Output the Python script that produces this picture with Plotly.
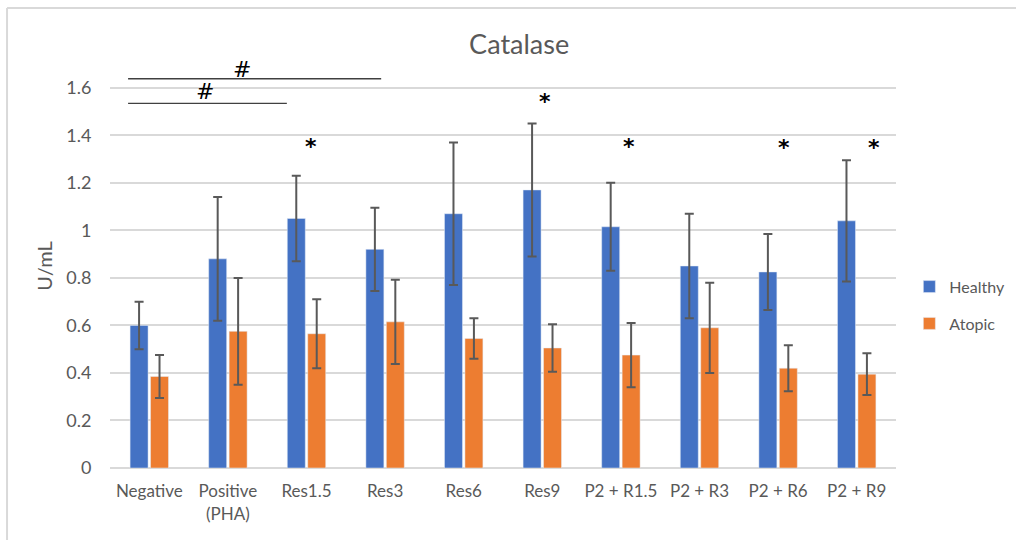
import plotly.graph_objects as go

# Catalase activity (U/mL) by treatment, mean with error
categories = ["Negative", "Positive<br>(PHA)", "Res1.5", "Res3", "Res6", "Res9",
              "P2 + R1.5", "P2 + R3", "P2 + R6", "P2 + R9"]
healthy = [0.60, 0.88, 1.05, 0.92, 1.07, 1.17, 1.015, 0.85, 0.825, 1.04]
healthy_err = [0.10, 0.26, 0.18, 0.175, 0.30, 0.28, 0.185, 0.22, 0.16, 0.255]
atopic = [0.385, 0.575, 0.565, 0.615, 0.545, 0.505, 0.475, 0.59, 0.42, 0.395]
atopic_err = [0.09, 0.225, 0.145, 0.177, 0.085, 0.10, 0.135, 0.19, 0.097, 0.088]

y_ticks = [0, 0.2, 0.4, 0.6, 0.8, 1.0, 1.2, 1.4, 1.6]
y_tick_labels = ["0", "0.2", "0.4", "0.6", "0.8", "1", "1.2", "1.4", "1.6"]

# significance marks: (category position, height)
star_marks = [(2.06, 1.352), (5.03, 1.541), (6.10, 1.352), (8.075, 1.348), (9.22, 1.348)]
hash_marks = [(1.18, 1.676), (0.71, 1.583)]
hash_lines = [(-0.27, 2.95, 1.638), (-0.27, 1.75, 1.534)]

FONT = "Lato, Open Sans, sans-serif"
GRAY = "#595959"
GRID = "#d9d9d9"

fig = go.Figure()
fig.add_trace(go.Bar(
    name="Healthy", x=categories, y=healthy, marker_color="#4472c4", legendgroup="h",
    error_y=dict(type="data", array=healthy_err, color="#595959", thickness=2, width=4.5),
))
fig.add_trace(go.Bar(
    name="Atopic", x=categories, y=atopic, marker_color="#ed7d31", legendgroup="a",
    error_y=dict(type="data", array=atopic_err, color="#595959", thickness=2, width=4.5),
))

mark_font = dict(family="DejaVu Sans, sans-serif", size=22, color="#000000")
annotations = []
for x, y in star_marks:
    annotations.append(dict(x=x, y=y, xref="x", yref="y", text="<b>*</b>", showarrow=False,
                            font=mark_font, yanchor="middle"))
for x, y in hash_marks:
    annotations.append(dict(x=x, y=y, xref="x", yref="y", text="#", showarrow=False,
                            font=mark_font, yanchor="middle"))

shapes = []
for x0, x1, y in hash_lines:
    shapes.append(dict(type="line", xref="x", yref="y", x0=x0, x1=x1, y0=y, y1=y,
                       line=dict(color="#404040", width=1.3)))
# outer chart frame (top and left edges)
FRAME_Y = 1.1386
FRAME_X = -0.131
shapes.append(dict(type="line", xref="paper", yref="paper", x0=FRAME_X, x1=1.2, y0=FRAME_Y, y1=FRAME_Y,
                   line=dict(color="#d9d9d9", width=2)))
shapes.append(dict(type="line", xref="paper", yref="paper", x0=FRAME_X, x1=FRAME_X, y0=-0.2, y1=FRAME_Y,
                   line=dict(color="#d9d9d9", width=2)))

fig.update_layout(
    width=1016, height=540,
    margin=dict(l=110, r=120, t=64, b=72, autoexpand=False),
    paper_bgcolor="white", plot_bgcolor="white",
    barmode="group", bargap=0.48, bargroupgap=0.12,
    title=dict(text="Catalase", x=0.511, xref="container", xanchor="center", y=0.917, yanchor="middle",
               font=dict(family=FONT, size=27, color=GRAY)),
    font=dict(family=FONT, size=17, color=GRAY),
    legend=dict(x=1.017, y=0.403, xanchor="left", yanchor="middle",
                font=dict(family=FONT, size=16, color=GRAY),
                tracegroupgap=13, traceorder="grouped", itemclick=False, itemwidth=30),
    annotations=annotations,
    shapes=shapes,
    showlegend=True,
)

fig.update_xaxes(showgrid=False, showline=False, zeroline=False,
                 ticks="outside", ticklen=8, tickcolor="rgba(0,0,0,0)",
                 tickfont=dict(family=FONT, size=17, color=GRAY))
fig.update_yaxes(range=[0, 1.7], tickvals=y_ticks, ticktext=y_tick_labels,
                 showgrid=True, gridcolor=GRID, gridwidth=2,
                 zeroline=True, zerolinecolor=GRID, zerolinewidth=2,
                 showline=False, ticks="outside", ticklen=14, tickcolor="rgba(0,0,0,0)",
                 tickfont=dict(family=FONT, size=18, color=GRAY),
                 title=dict(text="U/mL", standoff=8, font=dict(family=FONT, size=20, color=GRAY)))

fig.write_html("out.html")
